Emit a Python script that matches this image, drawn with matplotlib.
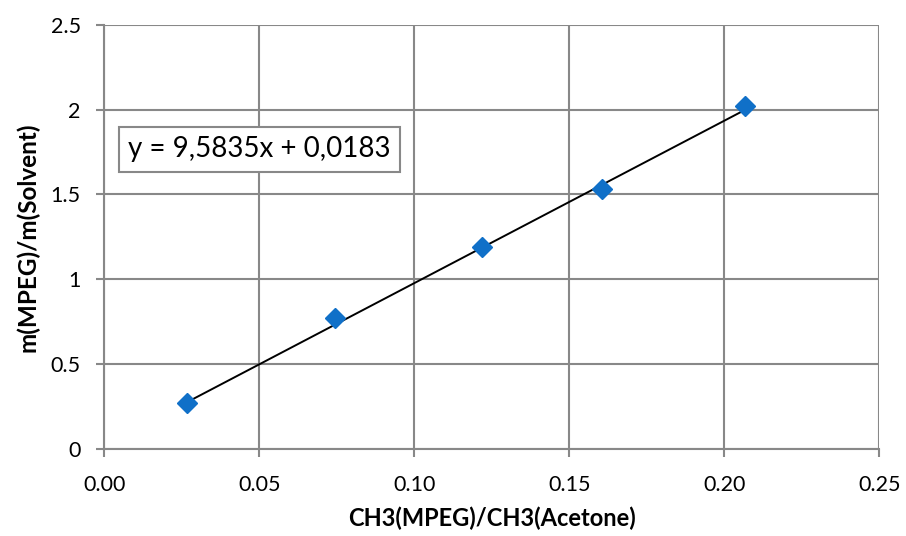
import matplotlib.pyplot as plt
import numpy as np

# Calibration points: CH3 ratio vs mass ratio
ch3_ratio = [0.0266, 0.0744, 0.1218, 0.1605, 0.2067]
mass_ratio = [0.268, 0.770, 1.189, 1.531, 2.019]

# Linear fit coefficients (shown on the chart)
slope = 9.5835
intercept = 0.0183

x_ticks = [0.00, 0.05, 0.10, 0.15, 0.20, 0.25]
y_ticks = [0, 0.5, 1, 1.5, 2, 2.5]
y_ticklabels = ['0', '0.5', '1', '1.5', '2', '2.5']

plt.rcParams['font.family'] = ['Lato', 'DejaVu Sans']

fig = plt.figure(figsize=(9.06, 5.36), dpi=100)
ax = fig.add_axes([0.1151, 0.163, 0.8554, 0.7904])

grid_col = '#888888'
ax.set_xlim(0, 0.25)
ax.set_ylim(0, 2.5)
ax.set_xticks(x_ticks)
ax.set_yticks(y_ticks)
ax.set_xticklabels(['%.2f' % t for t in x_ticks])
ax.set_yticklabels(y_ticklabels)
ax.grid(True, color=grid_col, linewidth=1.5)
ax.set_axisbelow(True)
for side in ['top', 'right']:
    ax.spines[side].set_visible(False)
for side in ['left', 'bottom']:
    ax.spines[side].set_color(grid_col)
    ax.spines[side].set_linewidth(1.5)
ax.tick_params(axis='both', direction='out', length=6, width=1.5, color=grid_col,
               labelsize=15.5)
ax.tick_params(axis='x', pad=13)
ax.tick_params(axis='y', pad=11)

# trend line between first and last point
xf = np.array([ch3_ratio[0], ch3_ratio[-1]])
ax.plot(xf, slope * xf + intercept, color='black', linewidth=1.4, zorder=3)
ax.plot(ch3_ratio, mass_ratio, linestyle='none', marker='D', markersize=10,
        color='#1070C8', zorder=4, clip_on=False)

ax.text(0.0077, 1.766, 'y = 9,5835x + 0,0183', fontsize=20, va='center', ha='left',
        bbox=dict(boxstyle='square,pad=0.33', facecolor='white', edgecolor=grid_col,
                  linewidth=1.5),
        zorder=5)

ax.set_xlabel('CH3(MPEG)/CH3(Acetone)', fontsize=17, fontweight='bold', labelpad=8)
ax.set_ylabel('m(MPEG)/m(Solvent)', fontsize=17.5, fontweight='bold', labelpad=8)

fig.savefig('out.png', dpi=100)
